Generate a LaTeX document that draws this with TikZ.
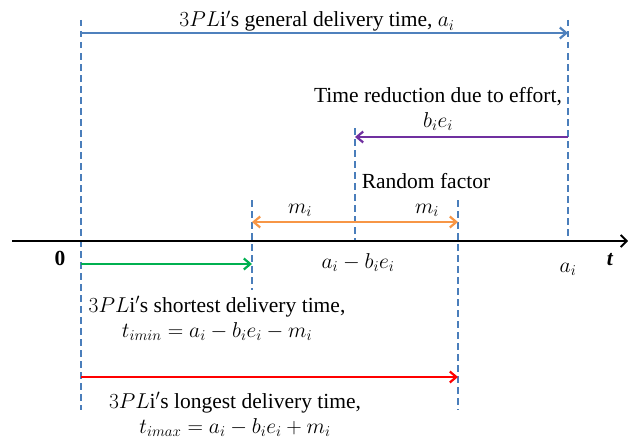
\RequirePackage{fix-cm}
\documentclass[tikz,border=0pt]{standalone}
\usepackage{fontspec}
\setmainfont{Liberation Serif}
\usetikzlibrary{arrows.meta}
\definecolor{dblue}{RGB}{74,126,187}
\definecolor{ablue}{RGB}{79,129,189}
\definecolor{apurple}{RGB}{112,48,160}
\definecolor{aorange}{RGB}{247,150,70}
\definecolor{agreen}{RGB}{0,176,80}
\definecolor{ared}{RGB}{255,0,0}
\tikzset{
  guide/.style={draw=dblue, line width=1.2pt, dash pattern=on 6.5pt off 4.5pt},
  arr/.style={line width=2.4pt, -{Straight Barb[length=6.5pt,width=11pt,line width=2.2pt]}},
  lbl/.style={inner sep=0pt, anchor=base, font=\fontsize{21.5}{25}\selectfont},
  lbl2/.style={inner sep=0pt, anchor=base, align=center, font=\fontsize{21.5}{25}\selectfont},
}
\begin{document}
\begin{tikzpicture}[x=1pt,y=-1pt]
\useasboundingbox (0,0) rectangle (628,444);
% guide coordinates
\coordinate (g0t) at (81,20);   \coordinate (g0b) at (81,410);
\coordinate (gat) at (568,20);  \coordinate (gab) at (568,242);
\coordinate (gbt) at (355,128); \coordinate (gbb) at (355,242);
\coordinate (glt) at (252,200); \coordinate (glb) at (252,290);
\coordinate (grt) at (458,200); \coordinate (grb) at (458,410);
\draw[guide] (g0t) -- (g0b);
\draw[guide] (gat) -- (gab);
\draw[guide] (gbt) -- (gbb);
\draw[guide] (glt) -- (glb);
\draw[guide] (grt) -- (grb);
% axis
\coordinate (ax0) at (12,241); \coordinate (ax1) at (628,241);
\draw[line width=2.4pt, -{Straight Barb[length=6pt,width=12pt,line width=1.8pt]}] (ax0) -- (ax1);
% arrows
\coordinate (b0) at (81,33);  \coordinate (b1) at (568,33);
\draw[arr, ablue] (b0) -- (b1);
\coordinate (p0) at (568,137); \coordinate (p1) at (355,137);
\draw[arr, apurple] (p0) -- (p1);
\coordinate (om) at (355,222); \coordinate (ol) at (252,222); \coordinate (or) at (458,222);
\draw[arr, aorange] (om) -- (ol);
\draw[arr, aorange] (om) -- (or);
\coordinate (g0) at (81,264); \coordinate (g1) at (252,264);
\draw[arr, agreen] (g0) -- (g1);
\coordinate (r0) at (81,377); \coordinate (r1) at (458,377);
\draw[arr, ared] (r0) -- (r1);
% labels
\node[lbl] (tgen) at (317,27) {$3PL\mathrm{i}'$s general delivery time, $a_i$};
\node[lbl2] (tred) at (438,127) {Time reduction due to effort,\\$b_ie_i$};
\node[lbl] (trand) at (426,188) {Random factor};
\node[lbl] (tm1) at (300,213) {$m_i$};
\node[lbl] (tm2) at (427,213) {$m_i$};
\node[lbl] (tzero) at (60,265) {\textbf{0}};
\node[lbl] (tab) at (358,268) {$a_i-b_ie_i$};
\node[lbl] (tai) at (568,272) {$a_i$};
\node[lbl] (tt) at (610,265) {\textbf{\textit{t}}};
\node[lbl2] (tshort) at (217,337) {$3PL\mathrm{i}'$s shortest delivery time,\\$t_{imin}=a_i-b_ie_i-m_i$};
\node[lbl2] (tlong) at (235,433) {$3PL\mathrm{i}'$s longest delivery time,\\$t_{imax}=a_i-b_ie_i+m_i$};
\end{tikzpicture}
\end{document}
